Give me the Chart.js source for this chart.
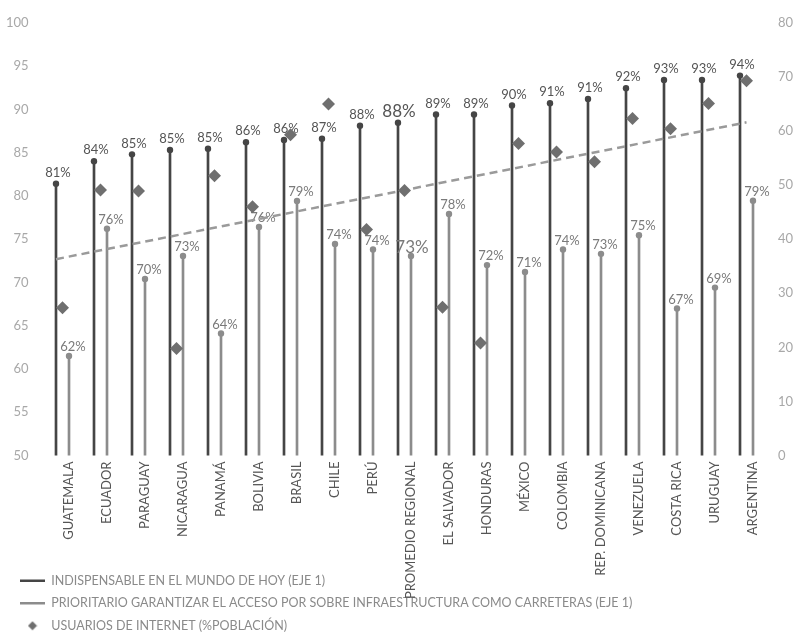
<!DOCTYPE html>
<html>
<head>
<meta charset="utf-8">
<script src="https://cdn.jsdelivr.net/npm/chart.js@4/dist/chart.umd.min.js"></script>
<style>
  html, body { margin: 0; padding: 0; background: #fff; }
  #wrap { width: 800px; height: 634px; }
</style>
</head>
<body>
<div id="wrap"><canvas id="c"></canvas></div>
<script>
// Países (ordenados según "indispensable")
const categories = [
  'GUATEMALA', 'ECUADOR', 'PARAGUAY', 'NICARAGUA', 'PANAMÁ', 'BOLIVIA', 'BRASIL',
  'CHILE', 'PERÚ', 'PROMEDIO REGIONAL', 'EL SALVADOR', 'HONDURAS', 'MÉXICO',
  'COLOMBIA', 'REP. DOMINICANA', 'VENEZUELA', 'COSTA RICA', 'URUGUAY', 'ARGENTINA'
];

// Eje 1 (%): internet indispensable en el mundo de hoy
const indispensable = [
  81.4, 84.0, 84.8, 85.3, 85.45, 86.2, 86.45, 86.6, 88.1, 88.45,
  89.4, 89.4, 90.45, 90.7, 91.2, 92.45, 93.4, 93.4, 93.9
];

// Eje 1 (%): prioritario garantizar el acceso por sobre infraestructura
const prioritario = [
  61.5, 76.2, 70.4, 73.05, 64.1, 76.4, 79.4, 74.45, 73.8, 73.05,
  77.9, 72.0, 71.2, 73.8, 73.3, 75.45, 67.0, 69.4, 79.45
];

// Eje 2 (%): usuarios de internet, % de la población
const usuariosInternet = [
  27.3, 49.1, 48.9, 19.8, 51.7, 46.0, 59.3, 65.0, 41.8, 49.0,
  27.4, 20.8, 57.7, 56.1, 54.3, 62.3, 60.4, 65.1, 69.3
];

// Línea de tendencia de usuarios de internet (eje 2): valor inicial y final
const tendencia = [36.3, 61.6];

const promedioIndex = categories.indexOf('PROMEDIO REGIONAL');

const DARK = '#454545';
const LIGHT = '#8c8c8c';
const DIAMOND = '#6f6f6f';
const FONT = 'Lato';

// separación de cada par de líneas respecto al centro de la categoría
const PAIR = 0.171;

const darkPts = indispensable.map((v, i) => ({ x: i - PAIR, y: v }));
const lightPts = prioritario.map((v, i) => ({ x: i + PAIR, y: v }));
const diamondPts = usuariosInternet.map((v, i) => ({ x: i, y: v }));
const trendPts = [
  { x: -PAIR, y: tendencia[0] },
  { x: categories.length - 1, y: tendencia[1] }
];

// Pequeño rombo para la leyenda (sin estirarse al ancho de las líneas)
const legendDiamond = (() => {
  const c = document.createElement('canvas');
  c.width = 10; c.height = 10;
  const g = c.getContext('2d');
  g.fillStyle = DIAMOND;
  g.beginPath();
  g.moveTo(5, 0.5); g.lineTo(9.5, 5); g.lineTo(5, 9.5); g.lineTo(0.5, 5);
  g.closePath();
  g.fill();
  return c;
})();

// Etiquetas de porcentaje sobre cada punto
const pointLabels = {
  id: 'pointLabels',
  afterDatasetDraw(chart, args) {
    if (args.index !== 3) return;
    const ctx = chart.ctx;
    ctx.save();
    ctx.textAlign = 'center';
    ctx.textBaseline = 'middle';
    [[2, indispensable, 2, 11, '#555'], [3, prioritario, 4, 9, '#7a7a7a']].forEach(([di, vals, dx, dy, color]) => {
      const meta = chart.getDatasetMeta(di);
      meta.data.forEach((pt, i) => {
        const big = i === promedioIndex;
        ctx.fillStyle = color;
        ctx.font = (big ? 17 : 13) + 'px ' + FONT;
        ctx.fillText(Math.round(vals[i]) + '%', pt.x + (big ? 1 : dx), pt.y - dy);
      });
    });
    ctx.restore();
  }
};

// Las etiquetas largas de los ejes pueden salir de su caja sin recortarse
const freeAxisLabels = {
  id: 'freeAxisLabels',
  afterLayout(chart) {
    chart.scales.x.bottom = chart.height;
    chart.scales.y.left = 0;
  }
};

new Chart(document.getElementById('c'), {
  type: 'bar',
  data: {
    datasets: [
      { type: 'bar', data: darkPts, backgroundColor: DARK, barThickness: 2, grouped: false, yAxisID: 'y', order: 7 },
      { type: 'bar', data: lightPts, backgroundColor: LIGHT, barThickness: 2, grouped: false, yAxisID: 'y', order: 6 },
      { type: 'line', data: darkPts, showLine: false, pointRadius: 3.2, pointBackgroundColor: DARK, pointBorderWidth: 0, yAxisID: 'y', order: 5 },
      { type: 'line', data: lightPts, showLine: false, pointRadius: 3.2, pointBackgroundColor: LIGHT, pointBorderWidth: 0, yAxisID: 'y', order: 4 },
      { type: 'line', data: trendPts, borderColor: '#9a9a9a', borderWidth: 2.5, borderDash: [8, 5], pointRadius: 0, fill: false, yAxisID: 'y1', order: 2 },
      { type: 'line', data: diamondPts, showLine: false, pointStyle: 'rectRot', pointRadius: 6.5, pointBackgroundColor: DIAMOND, pointBorderWidth: 0, yAxisID: 'y1', order: 1 }
    ]
  },
  options: {
    responsive: true,
    maintainAspectRatio: false,
    animation: false,
    layout: { padding: { top: 13, left: 10, right: 0, bottom: -8 } },
    scales: {
      x: {
        type: 'linear',
        offset: false,
        min: -0.5,
        max: categories.length - 0.5,
        grid: { display: false, drawTicks: false },
        border: { display: false },
        afterBuildTicks: (s) => { s.ticks = categories.map((_, i) => ({ value: i })); },
        afterFit: (s) => { s.height = 109; },
        ticks: {
          autoSkip: false,
          minRotation: 90,
          maxRotation: 90,
          padding: 6,
          labelOffset: 6,
          color: '#555',
          font: { family: FONT, size: 13 },
          callback: (v) => categories[v]
        }
      },
      y: {
        position: 'left',
        min: 50, max: 100,
        grid: { display: false, drawTicks: false },
        border: { display: false },
        afterFit: (s) => { s.width = 33.5; },
        ticks: { stepSize: 5, padding: 15, color: '#a8a8a8', font: { family: FONT, size: 13 } }
      },
      y1: {
        position: 'right',
        min: 0, max: 80,
        grid: { display: false, drawTicks: false },
        border: { display: false },
        afterFit: (s) => { s.width = 34.5; },
        ticks: { stepSize: 10, padding: 12.5, color: '#a8a8a8', font: { family: FONT, size: 13 } }
      }
    },
    plugins: {
      tooltip: { enabled: false },
      legend: {
        position: 'bottom',
        align: 'start',
        labels: {
          usePointStyle: true,
          pointStyleWidth: 25,
          boxHeight: 6,
          padding: 10,
          color: '#8a8a8a',
          font: { family: FONT, size: 12.5 },
          generateLabels: () => [
            { text: 'INDISPENSABLE EN EL MUNDO DE HOY (EJE 1)', pointStyle: 'line', strokeStyle: DARK, fillStyle: DARK, lineWidth: 2.5, fontColor: '#8a8a8a', hidden: false, datasetIndex: 0 },
            { text: 'PRIORITARIO GARANTIZAR EL ACCESO POR SOBRE INFRAESTRUCTURA COMO CARRETERAS (EJE 1)', pointStyle: 'line', strokeStyle: LIGHT, fillStyle: LIGHT, lineWidth: 2.5, fontColor: '#8a8a8a', hidden: false, datasetIndex: 1 },
            { text: 'USUARIOS DE INTERNET (%POBLACIÓN)', pointStyle: legendDiamond, strokeStyle: DIAMOND, fillStyle: DIAMOND, lineWidth: 0, fontColor: '#8a8a8a', hidden: false, datasetIndex: 5 }
          ]
        }
      }
    }
  },
  plugins: [pointLabels, freeAxisLabels]
});
</script>
</body>
</html>
